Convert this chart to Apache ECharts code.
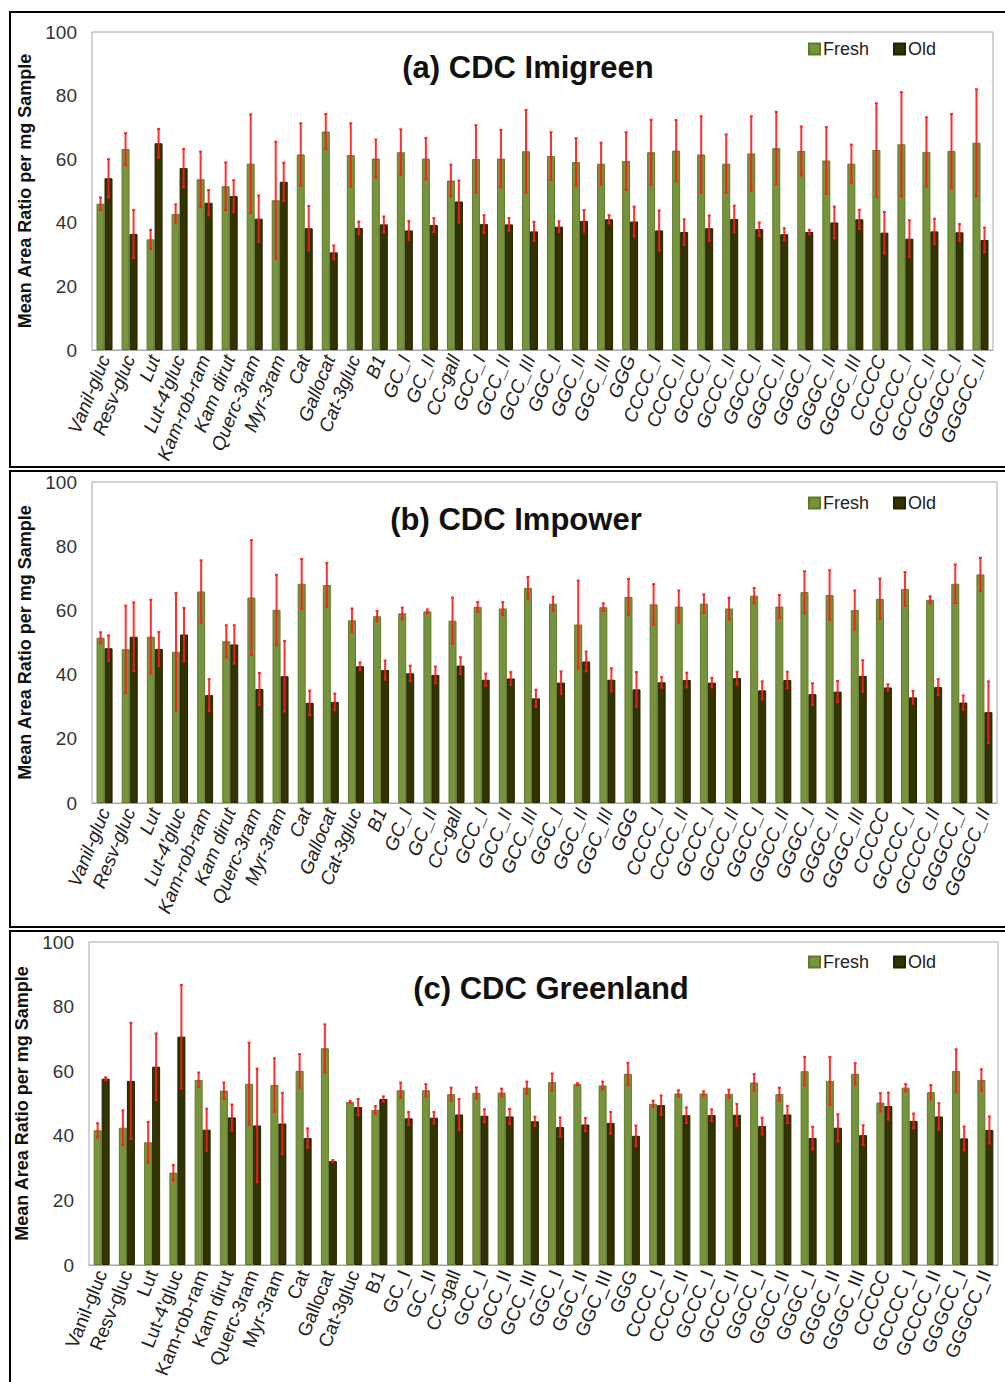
<!DOCTYPE html>
<html>
<head>
<meta charset="utf-8">
<title>Mean Area Ratio per mg Sample</title>
<script src="https://cdn.jsdelivr.net/npm/echarts@6/dist/echarts.min.js"></script>
<style>
  html, body { margin: 0; padding: 0; background: #ffffff; }
  #chart { width: 1005px; height: 1382px; }
</style>
</head>
<body>
<div id="chart"></div>
<script>
// Compounds on the x axis (same order in every panel)
const categories = [
  'Vanil-gluc', 'Resv-gluc', 'Lut', "Lut-4'gluc", 'Kam-rob-ram', 'Kam dirut',
  'Querc-3ram', 'Myr-3ram', 'Cat', 'Gallocat', 'Cat-3gluc', 'B1',
  'GC_I', 'GC_II', 'CC-gall', 'GCC_I', 'GCC_II', 'GCC_III',
  'GGC_I', 'GGC_II', 'GGC_III', 'GGG', 'CCCC_I', 'CCCC_II',
  'GCCC_I', 'GCCC_II', 'GGCC_I', 'GGCC_II', 'GGGC_I', 'GGGC_II',
  'GGGC_III', 'CCCCC', 'GCCCC_I', 'GCCCC_II', 'GGGCC_I', 'GGGCC_II'
];

const yTicks = [0, 20, 40, 60, 80, 100];

// (a) CDC Imigreen
const freshA    = [46, 63.2, 34.8, 42.8, 53.7, 51.5, 58.6, 47.1, 61.5, 68.7, 61.3, 60.2, 62.2, 60.2, 53.3, 60.1, 60.2, 62.5, 61, 59.1, 58.6, 59.4, 62.2, 62.7, 61.5, 58.6, 61.8, 63.5, 62.6, 59.6, 58.6, 62.9, 64.7, 62.3, 62.6, 65.2];
const freshErrA = [2, 5, 3, 3, 8.7, 7.5, 15.5, 18.4, 9.8, 5.5, 10, 6, 7.2, 6.5, 5, 10.6, 9, 13, 7.5, 7.5, 6.6, 9.1, 10.2, 9.6, 12, 9.2, 11.7, 11.4, 7.7, 10.5, 6, 14.7, 16.4, 10.9, 11.6, 16.8];
const oldA      = [54, 36.5, 65, 57.2, 46.3, 48.4, 41.3, 52.9, 38.3, 30.7, 38.4, 39.5, 37.6, 39.3, 46.7, 39.6, 39.5, 37.3, 38.8, 40.6, 41.1, 40.4, 37.6, 37.1, 38.3, 41.2, 38, 36.4, 37.1, 40.1, 41.1, 36.9, 35, 37.3, 37, 34.6];
const oldErrA   = [6, 7.5, 4.5, 6, 4, 5, 7.3, 6, 7, 2.2, 2, 2.5, 3, 2.2, 6.6, 2.8, 2, 3, 1.7, 3.4, 1.3, 4.7, 6.3, 4, 4, 4.2, 2.1, 1.9, 0.7, 5, 3, 6.5, 5.8, 4, 2.6, 3.9];

// (b) CDC Impower
const freshB    = [51.5, 47.9, 51.8, 47.1, 65.9, 50.4, 64, 60.2, 68.3, 67.9, 56.9, 58.2, 59.1, 59.7, 56.8, 61.1, 60.6, 67, 62.1, 55.6, 61, 64.2, 61.9, 61.2, 62.1, 60.6, 64.6, 61.2, 65.7, 64.8, 60.1, 63.6, 66.7, 63.3, 68.3, 71.2];
const freshErrB = [1.7, 13.6, 11.5, 18.3, 9.7, 5, 17.9, 10.9, 7.7, 6.9, 3.7, 1.6, 1.8, 0.6, 7.2, 1.5, 2, 3.4, 2.2, 13.7, 1.2, 5.6, 6.3, 5, 2.9, 3.4, 2.4, 3.6, 6.5, 7.7, 6.1, 6.3, 5.3, 1.1, 6, 5.2];
const oldB      = [48.2, 51.8, 48, 52.5, 33.6, 49.4, 35.5, 39.5, 31.2, 31.5, 42.6, 41.4, 40.4, 39.9, 42.8, 38.4, 38.8, 32.6, 37.5, 44.1, 38.4, 35.4, 37.6, 38.3, 37.5, 38.9, 35.1, 38.3, 33.9, 34.7, 39.6, 36, 32.9, 36.1, 31.3, 28.3];
const oldErrB   = [4, 10.7, 5.3, 8.3, 5, 6, 5, 11, 3.8, 2.6, 1.2, 3, 2.4, 2.6, 2.6, 1.9, 2, 2.7, 3.5, 3.1, 3.6, 5.4, 1.7, 2.3, 1.5, 2, 2.8, 2.6, 3.4, 3.3, 4.9, 1, 2, 2.5, 2.2, 9.6];

// (c) CDC Greenland
const freshC    = [41.7, 42.5, 38, 28.6, 57.3, 54, 56.1, 55.7, 60.1, 67.1, 50.5, 48, 54.1, 54.1, 52.9, 53.3, 53.4, 54.9, 56.6, 56, 55.6, 59.2, 49.9, 53.1, 53.1, 53, 56.5, 52.9, 60, 57, 59.2, 50.3, 54.9, 53.5, 60.1, 57.3];
const freshErrC = [2.2, 5.4, 6.3, 2.4, 2.3, 2.5, 12.7, 8.3, 5.2, 7.4, 0.3, 1.2, 2.4, 1.9, 2, 1.7, 1.2, 1.9, 2.7, 0.3, 1.2, 3.4, 1, 1, 0.7, 1.3, 2.6, 2, 4.4, 7.4, 3.3, 2.9, 1.1, 2.2, 6.7, 3.3];
const oldC      = [57.7, 57, 61.4, 70.7, 41.9, 45.7, 43.2, 43.8, 39.3, 32.2, 48.9, 51.4, 45.4, 45.6, 46.6, 46.2, 46, 44.5, 42.7, 43.5, 44, 40, 49.5, 46.4, 46.4, 46.5, 43, 46.6, 39.3, 42.5, 40.2, 49.2, 44.6, 46, 39.2, 41.8];
const oldErrC   = [0.4, 18, 10.3, 16, 6.5, 4, 17.6, 9.5, 3, 0.3, 2.5, 0.8, 2, 1.8, 4.8, 2, 2.3, 1.4, 3, 2, 3.4, 3.2, 3, 2.4, 1.8, 3.4, 2.6, 2.6, 3.5, 4.2, 3.1, 4.2, 2.3, 4.1, 3.7, 4.2];

const panels = [
  { title: '(a) CDC Imigreen', fresh: freshA, freshErr: freshErrA, old: oldA, oldErr: oldErrA,
    grid: { left: 92, top: 32, width: 901, height: 318 }, italic: true, nameGap: 55,
    titlePos: [528, 67], legendTop: 35, frame: [10, 12, 1010, 467] },
  { title: '(b) CDC Impower', fresh: freshB, freshErr: freshErrB, old: oldB, oldErr: oldErrB,
    grid: { left: 92, top: 482, width: 905, height: 321 }, italic: true, nameGap: 55,
    titlePos: [516, 519], legendTop: 489, frame: [10, 471, 1010, 927] },
  { title: '(c) CDC Greenland', fresh: freshC, freshErr: freshErrC, old: oldC, oldErr: oldErrC,
    grid: { left: 89, top: 942, width: 909, height: 323 }, italic: false, nameGap: 54,
    titlePos: [551, 988], legendTop: 948, frame: [10, 931, 1010, 1395] }
];

const FRESH = '#77933c';
const OLD = '#333300';
const ERR = '#ff1a1a';
const BAR_W = 8;
const FONT = '"Liberation Sans", Arial, sans-serif';

// Vertical error bar centred on one bar of the pair
function errorBar(offset) {
  return function (params, api) {
    const i = api.value(0), v = api.value(1), e = api.value(2);
    const hi = api.coord([i, v + e]);
    const lo = api.coord([i, v - e]);
    const x = hi[0] + offset;
    const st = { stroke: ERR, lineWidth: 2, opacity: 0.9 };
    return {
      type: 'group',
      children: [
        { type: 'line', shape: { x1: x, y1: hi[1], x2: x, y2: lo[1] }, style: st },
        { type: 'line', shape: { x1: x - 1.5, y1: hi[1], x2: x + 1.5, y2: hi[1] }, style: st },
        { type: 'line', shape: { x1: x - 1.5, y1: lo[1], x2: x + 1.5, y2: lo[1] }, style: st }
      ]
    };
  };
}

const option = {
  animation: false,
  backgroundColor: '#ffffff',
  textStyle: { fontFamily: FONT },
  grid: [], xAxis: [], yAxis: [], series: [], legend: [], graphic: []
};

panels.forEach((p, k) => {
  option.grid.push(Object.assign({ show: true, borderColor: '#a6a6a6', borderWidth: 1, backgroundColor: 'transparent' }, p.grid));

  option.xAxis.push({
    type: 'category', gridIndex: k, data: categories,
    axisLine: { show: true, lineStyle: { color: '#a6a6a6', width: 1 } },
    axisTick: { show: false },
    axisLabel: {
      interval: 0, rotate: 68, margin: 6,
      fontSize: 19, color: '#222', fontFamily: FONT,
      fontStyle: p.italic ? 'italic' : 'normal'
    }
  });

  option.yAxis.push({
    type: 'value', gridIndex: k, min: yTicks[0], max: yTicks[yTicks.length - 1], interval: 20,
    name: 'Mean Area Ratio per mg Sample', nameLocation: 'middle', nameGap: p.nameGap,
    nameTextStyle: { fontSize: 18, fontWeight: 'bold', color: '#111', fontFamily: FONT },
    axisLine: { show: false }, axisTick: { show: false }, splitLine: { show: false },
    axisLabel: { fontSize: 19, color: '#333', margin: 15, fontFamily: FONT }
  });

  option.series.push(
    { name: 'Fresh', type: 'bar', xAxisIndex: k, yAxisIndex: k, data: p.fresh,
      barWidth: BAR_W, barGap: '0%',
      itemStyle: { color: FRESH, borderColor: '#5f7a2c', borderWidth: 1 } },
    { name: 'Old', type: 'bar', xAxisIndex: k, yAxisIndex: k, data: p.old,
      barWidth: BAR_W, barGap: '0%',
      itemStyle: { color: OLD, borderColor: '#222200', borderWidth: 1 } },
    { name: 'Fresh error', type: 'custom', xAxisIndex: k, yAxisIndex: k, z: 5,
      renderItem: errorBar(-BAR_W / 2), encode: { x: 0, y: 1 },
      data: p.fresh.map((v, i) => [i, v, p.freshErr[i]]) },
    { name: 'Old error', type: 'custom', xAxisIndex: k, yAxisIndex: k, z: 5,
      renderItem: errorBar(BAR_W / 2), encode: { x: 0, y: 1 },
      data: p.old.map((v, i) => [i, v, p.oldErr[i]]) }
  );

  option.legend.push({
    data: ['Fresh', 'Old'], left: 803, top: p.legendTop, orient: 'horizontal',
    icon: 'rect', itemWidth: 11, itemHeight: 11, itemGap: 24,
    textStyle: { fontSize: 18, color: '#222', fontFamily: FONT, padding: [0, 0, 0, -2] },
    selectedMode: false
  });

  option.graphic.push(
    { type: 'text', x: p.titlePos[0], y: p.titlePos[1], z: 10,
      style: { text: p.title, fill: '#111', font: 'bold 31px ' + FONT,
               textAlign: 'center', textVerticalAlign: 'middle' } },
    { type: 'rect', z: 10,
      shape: { x: p.frame[0], y: p.frame[1], width: p.frame[2] - p.frame[0], height: p.frame[3] - p.frame[1] },
      style: { fill: 'none', stroke: '#000', lineWidth: 2 } }
  );
});

const chart = echarts.init(document.getElementById('chart'), null, { renderer: 'svg' });
chart.setOption(option);
</script>
</body>
</html>
